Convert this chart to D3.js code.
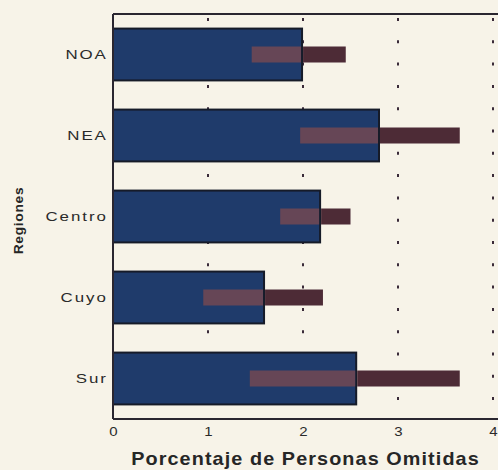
<!DOCTYPE html>
<html><head><meta charset="utf-8">
<script src="https://cdn.jsdelivr.net/npm/d3@7"></script>
<style>
html,body{margin:0;padding:0;background:#f7f3e8;}
svg{display:block;font-family:"Liberation Sans",Arial,sans-serif;}
</style></head>
<body>
<svg id="c" width="498" height="470"></svg>
<script>
const regions = ["NOA","NEA","Centro","Cuyo","Sur"];
const values = [1.99, 2.80, 2.18, 1.59, 2.56];
const lower = [1.46, 1.97, 1.76, 0.95, 1.44];
const upper = [2.45, 3.65, 2.50, 2.21, 3.65];
const xTicks = [0,1,2,3,4];
const xTitle = "Porcentaje de Personas Omitidas";
const yTitle = "Regiones";

(function(){
const svg = d3.select("#c");
const mL = 113, mR = 493, mT = 14, mB = 419;
const x = d3.scaleLinear().domain([0,4]).range([mL,mR]);
const y = d3.scaleBand().domain(regions).range([mT,mB]).paddingInner(0.36).paddingOuter(0.18);

svg.append("rect").attr("width",498).attr("height",470).attr("fill","#f7f3e8");

// dotted grid lines
svg.append("g").selectAll("line").data(xTicks.filter(d=>d>0)).join("line")
  .attr("x1",d=>x(d)).attr("x2",d=>x(d)).attr("y1",mT+4).attr("y2",mB)
  .attr("stroke","#3a2a38").attr("stroke-width",2).attr("stroke-dasharray","3,19.3");

const data = regions.map((r,i)=>({r,v:values[i],lo:lower[i],hi:upper[i]}));

// bars
svg.append("g").selectAll("rect").data(data).join("rect")
  .attr("x",x(0)).attr("y",d=>y(d.r)).attr("width",d=>x(d.v)-x(0)).attr("height",y.bandwidth())
  .attr("fill","#1f3b6b").attr("stroke","#161b28").attr("stroke-width",2);

// error bars: part over the bar and part outside
const eh = 16;
const eg = svg.append("g");
eg.selectAll("rect.in").data(data.filter(d=>d.lo<d.v)).join("rect").attr("class","in")
  .attr("x",d=>x(d.lo)).attr("y",d=>y(d.r)+y.bandwidth()/2-eh/2)
  .attr("width",d=>x(Math.min(d.hi,d.v))-x(d.lo)-1).attr("height",eh)
  .attr("fill","#664656");
eg.selectAll("rect.out").data(data.filter(d=>d.hi>d.v)).join("rect").attr("class","out")
  .attr("x",d=>x(Math.max(d.lo,d.v))+1).attr("y",d=>y(d.r)+y.bandwidth()/2-eh/2)
  .attr("width",d=>x(d.hi)-x(Math.max(d.lo,d.v))-1).attr("height",eh)
  .attr("fill","#4d2b36");

// frame lines
svg.append("line").attr("x1",mL).attr("x2",498).attr("y1",mT).attr("y2",mT).attr("stroke","#2a2630").attr("stroke-width",2);
svg.append("line").attr("x1",mL).attr("x2",498).attr("y1",mB).attr("y2",mB).attr("stroke","#2a2630").attr("stroke-width",2);
svg.append("line").attr("x1",mL).attr("x2",mL).attr("y1",mT).attr("y2",mB).attr("stroke","#2a2630").attr("stroke-width",2);

// x axis tick labels
const xa = svg.append("g").attr("transform",`translate(0,${mB})`)
  .call(d3.axisBottom(x).tickValues(xTicks).tickFormat(d3.format("d")).tickSize(0).tickPadding(8));
xa.select(".domain").remove();
xa.selectAll("text").attr("font-size",12).attr("fill","#2a2a2a").attr("font-family","'Liberation Sans',Arial,sans-serif")
  .attr("transform","scale(1.25,1)");

// y axis labels
const ya = svg.append("g").attr("transform",`translate(${mL},0)`)
  .call(d3.axisLeft(y).tickSize(0).tickPadding(4));
ya.select(".domain").remove();
ya.selectAll("text").attr("font-size",13).attr("fill","#2a2a2a").attr("font-family","'Liberation Sans',Arial,sans-serif")
  .attr("transform","scale(1.3,1)").style("letter-spacing","1.5px");

// titles
svg.append("text").attr("transform","translate(305.5,465) scale(1.1,1)").attr("text-anchor","middle")
  .attr("font-size",18).attr("font-weight","bold").attr("fill","#262626").style("letter-spacing","1px").text(xTitle);
svg.append("text").attr("transform","translate(23,220.5) rotate(-90) scale(1.15,1)").attr("text-anchor","middle")
  .attr("font-size",12).attr("font-weight","bold").attr("fill","#262626").style("letter-spacing","0.6px").text(yTitle);
})();
</script>
</body></html>
